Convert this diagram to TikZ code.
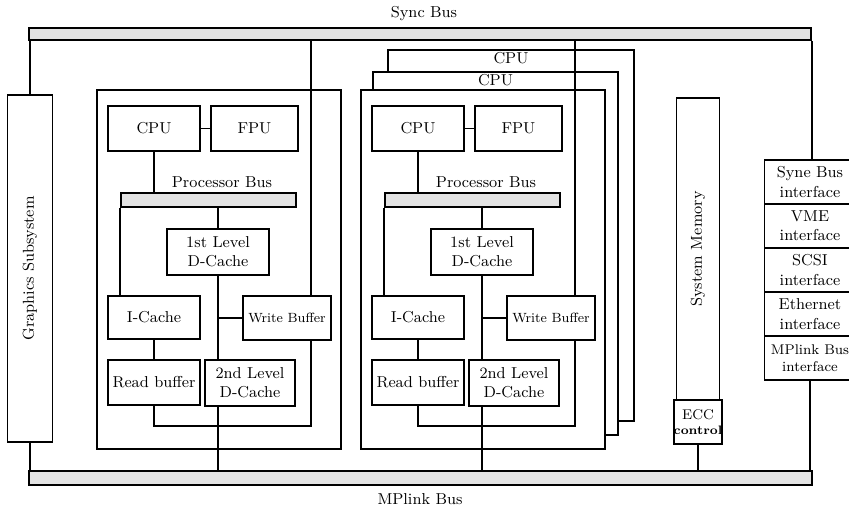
\documentclass[tikz,border=0pt]{standalone}
\usepackage{fontspec}
\usepackage{tikz}
\usetikzlibrary{positioning}

\begin{document}
\begin{tikzpicture}[
x=0.02cm,y=-0.02cm,
every node/.style={font=\small},
blk/.style={draw,line width=1pt,fill=white,inner sep=1pt,align=center},
ifc/.style={blk,outer sep=0pt,minimum width=1.82cm,minimum height=0.88cm,inner sep=0pt},
bus/.style={draw,line width=1.5pt,fill=gray!22,inner sep=0pt},
wire/.style={line width=1pt},
spaced/.style={font=\small\addfontfeatures{LetterSpace=12}}
]
\useasboundingbox (0,0) rectangle (849,507);

% Buses
\node[bus,minimum width=15.64cm,minimum height=0.24cm] (sync) at (420,34) {};
\node[bus,minimum width=15.66cm,minimum height=0.28cm] (mpl) at (420.5,478) {};
\node[spaced] (synclbl) at (424,14) {Sync Bus};
\node[spaced] (mpllbl) at (420,499) {MPlink Bus};

% Graphics
\node[blk,minimum width=0.9cm,minimum height=6.94cm] (gfx) at (30,268.5)
  {\rotatebox{90}{\addfontfeatures{LetterSpace=15}Graphics Subsystem}};
\draw[wire] (gfx.north) -- (gfx.north |- sync.south);
\draw[wire] (gfx.south) -- (gfx.south |- mpl.north);

% CPU boards behind the second one
\node[blk,minimum width=4.92cm,minimum height=7.42cm,
  label={[anchor=north,inner sep=1.5pt]north:CPU}] (cpuC) at (511,235.5) {};
\node[blk,minimum width=4.9cm,minimum height=7.26cm,
  label={[anchor=north,inner sep=1.5pt]north:CPU}] (cpuB) at (495.5,253.5) {};

% Processor modules
\foreach \m/\dx in {L/0,R/264}{
\begin{scope}[shift={(\dx,0)}]
\node[blk,minimum width=4.88cm,minimum height=7.18cm] (mod\m) at (219,269.5) {};
\node[blk,minimum width=1.84cm,minimum height=0.9cm] (cpu\m) at (154,128.5) {CPU};
\node[blk,minimum width=1.74cm,minimum height=0.9cm] (fpu\m) at (254.5,128.5) {FPU};
\node[bus,line width=1.2pt,minimum width=3.5cm,minimum height=0.28cm] (pbus\m) at (208.5,200) {};
\node[font=\small\addfontfeatures{LetterSpace=6}] (pbl\m) at (222,182) {Processor Bus};
\node[blk,minimum width=2.04cm,minimum height=0.92cm] (lone\m) at (218,252) {1st Level\\D-Cache};
\node[blk,minimum width=1.84cm,minimum height=0.86cm] (ic\m) at (154,317.5) {I-Cache};
\node[blk,minimum width=1.76cm,minimum height=0.88cm,inner sep=0pt,
  font=\fontsize{7.6}{9}\selectfont] (wb\m) at (287,318) {Write Buffer};
\node[blk,minimum width=1.84cm,minimum height=0.9cm] (rb\m) at (154,382.5) {Read buffer};
\node[blk,minimum width=1.8cm,minimum height=0.92cm] (ltwo\m) at (250,383) {2nd Level\\D-Cache};
\coordinate (tap\m) at (311,0);
\coordinate (join\m) at (0,426);

\draw[wire] (cpu\m) -- (fpu\m);
\draw[wire] (cpu\m.south) -- (cpu\m.south |- pbus\m.north);
\draw[wire] (lone\m.north |- pbus\m.south) -- (lone\m.north);
\draw[wire] (pbus\m.south west) -- (pbus\m.south west |- ic\m.north);
\draw[wire] (ic\m) -- (rb\m);
\draw[wire] (lone\m.south) -- (lone\m.south |- ltwo\m.north);
\draw[wire] (lone\m.south |- wb\m.west) -- (wb\m.west);
\draw[wire] (lone\m.south |- ltwo\m.south) -- (lone\m.south |- mpl.north);
\draw[wire] (rb\m.south) -- (rb\m.south |- join\m) -| (tap\m |- wb\m.south);
\draw[wire] (tap\m |- sync.south) -- (tap\m |- wb\m.north);
\end{scope}
}

% Memory
\node[blk,minimum width=0.86cm,minimum height=6.04cm] (mem) at (698,249)
  {\rotatebox{90}{\addfontfeatures{LetterSpace=15}System Memory}};
\node[blk,minimum width=0.86cm,minimum height=0.88cm,inner sep=0pt] (ecc) at (698,422)
  {{\footnotesize ECC}\\[-2pt]{\scriptsize\bfseries control}};
\draw[wire] (ecc) -- (ecc |- mpl.north);

% Interfaces
\node[ifc] (if1) at (810,182) {Syne Bus\\interface};
\node[ifc,below=0pt of if1] (if2) {VME\\interface};
\node[ifc,below=0pt of if2] (if3) {SCSI\\interface};
\node[ifc,below=0pt of if3] (if4) {Ethernet\\interface};
\node[ifc,below=0pt of if4,font=\footnotesize] (if5) {MPlink Bus\\interface};
\draw[wire] (sync.south east) -- (sync.south east |- if1.north);
\draw[wire] (if5.south) -- (if5.south |- mpl.north);

\end{tikzpicture}
\end{document}
